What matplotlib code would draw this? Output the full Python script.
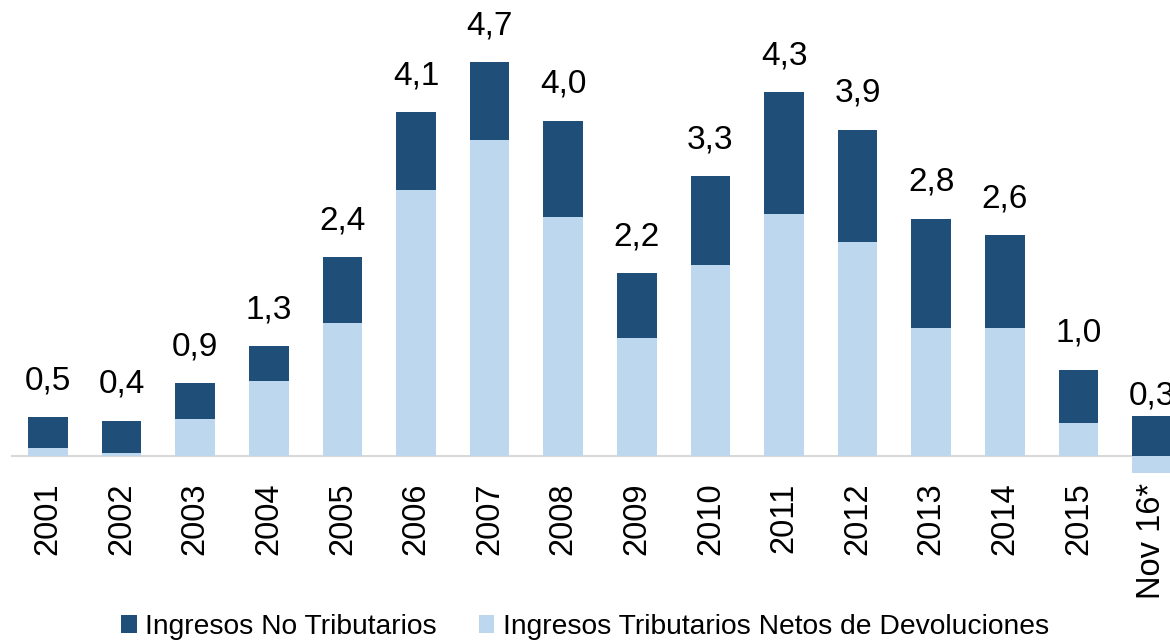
import matplotlib.pyplot as plt
import numpy as np

plt.rcParams['font.family'] = ['Liberation Sans', 'DejaVu Sans']

years = ['2001', '2002', '2003', '2004', '2005', '2006', '2007', '2008',
         '2009', '2010', '2011', '2012', '2013', '2014', '2015', 'Nov 16*']
tributarios = [0.09, 0.03, 0.44, 0.89, 1.58, 3.17, 3.77, 2.85,
               1.41, 2.28, 2.88, 2.55, 1.53, 1.53, 0.39, -0.20]
no_tributarios = [0.37, 0.39, 0.43, 0.42, 0.79, 0.93, 0.93, 1.15,
                  0.77, 1.06, 1.46, 1.34, 1.30, 1.10, 0.64, 0.48]

dark = '#1F4E79'
light = '#BDD7EE'

fig = plt.figure(figsize=(11.7, 6.4), dpi=100)
ax = fig.add_axes([11.2 / 1170, 159 / 640, 1177.6 / 1170, 461 / 640])

x = np.arange(len(years))
trib = np.array(tributarios)
notrib = np.array(no_tributarios)
w = 0.54

ax.bar(x, trib, w, color=light, label='Ingresos Tributarios Netos de Devoluciones', zorder=2)
ax.bar(x, notrib, w, bottom=np.maximum(trib, 0), color=dark,
       label='Ingresos No Tributarios', zorder=2)
ax.axhline(0, color='#D9D9D9', lw=1.5, zorder=1)

# etiquetas con el total sobre cada barra
total = trib + notrib
for xi, t in zip(x, total):
    ax.annotate(f'{t:.1f}'.replace('.', ','), (xi, t), xytext=(0, 15),
                textcoords='offset points', ha='center', va='bottom', fontsize=24)

ax.set_xlim(-0.5, len(years) - 0.5)
ax.set_ylim(-0.3, 5.2)
ax.set_xticks(x)
ax.set_xticklabels(years, rotation=90, fontsize=23.5, va='top')
ax.tick_params(axis='x', length=0, pad=1)
ax.set_yticks([])
for s in ax.spines.values():
    s.set_visible(False)

h, l = ax.get_legend_handles_labels()
fig.legend(h[::-1], l[::-1], loc='center', bbox_to_anchor=(0.5, 0.02), ncol=2,
           frameon=False, fontsize=20.3, handlelength=0.55, handleheight=0.6,
           handletextpad=0.3, columnspacing=1.5)

fig.savefig('out.png', dpi=100)
